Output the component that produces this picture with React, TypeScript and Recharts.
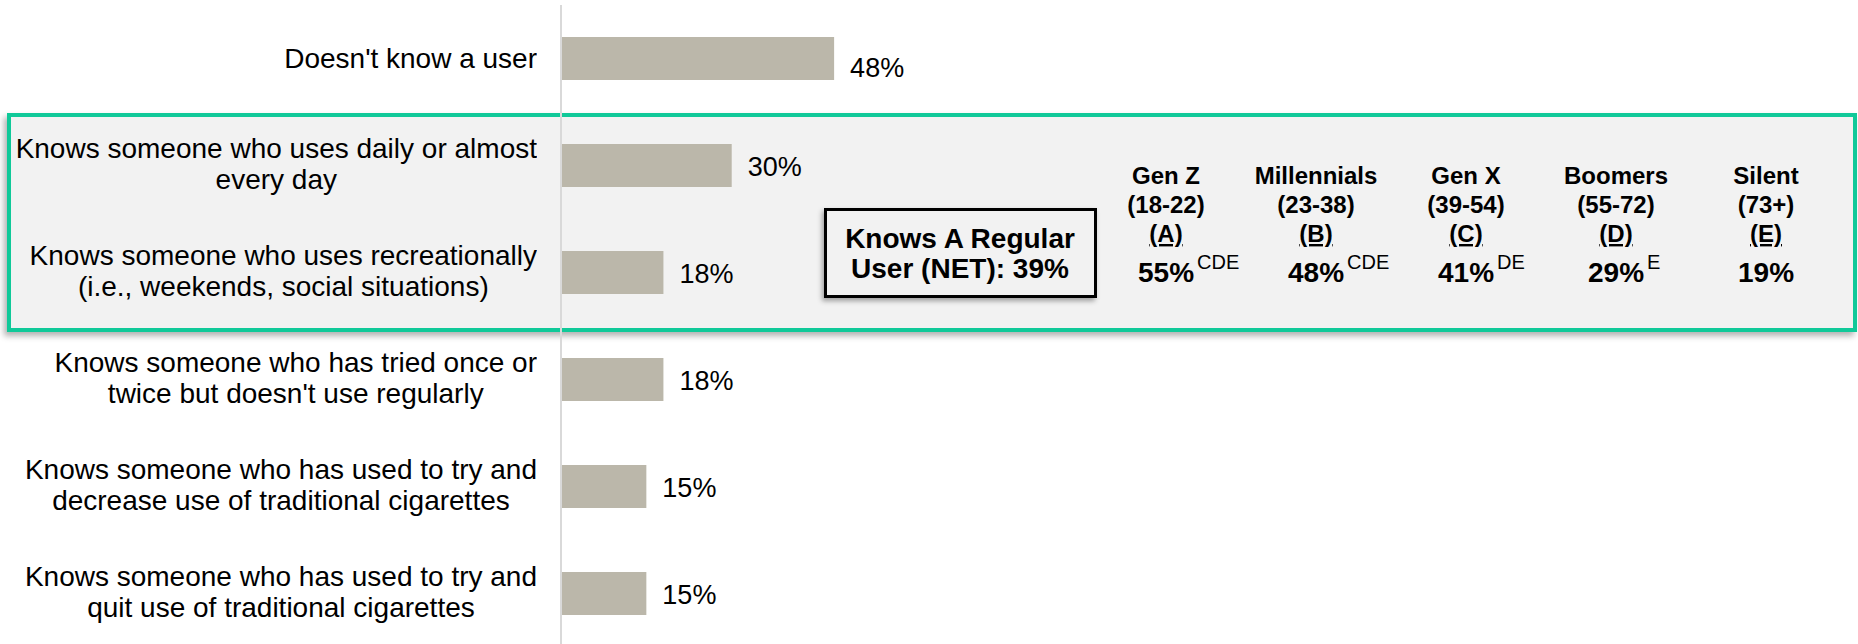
import React from "react";
import { BarChart, Bar, XAxis, YAxis, LabelList } from "recharts";

// who the respondents know, share of all adults
const categories = [
  "Doesn't know a user",
  "Knows someone who uses daily or almost\nevery day",
  "Knows someone who uses recreationally\n(i.e., weekends, social situations)",
  "Knows someone who has tried once or\ntwice but doesn't use regularly",
  "Knows someone who has used to try and\ndecrease use of traditional cigarettes",
  "Knows someone who has used to try and\nquit use of traditional cigarettes",
];
const values = [48, 30, 18, 18, 15, 15];

const netLines = ["Knows A Regular", "User (NET): "];
const netValue = 39;

const genNames = ["Gen Z", "Millennials", "Gen X", "Boomers", "Silent"];
const genAges = ["(18-22)", "(23-38)", "(39-54)", "(55-72)", "(73+)"];
const genLetters = ["(A)", "(B)", "(C)", "(D)", "(E)"];
const genValues = [55, 48, 41, 29, 19];
const genSig = ["CDE", "CDE", "DE", "E", ""];

const FONT = "'Liberation Sans', Arial, sans-serif";
const BAR = "#bbb7aa";
const GREEN = "#10c999";

const data = categories.map((name, i) => ({ name, value: values[i] }));

const CategoryTick = (props: any) => {
  const { x, y, payload } = props;
  const lines = String(payload.value).split("\n");
  return (
    <foreignObject x={x - 560} y={y - 50} width={560} height={100}>
      <div
        style={{
          width: 560,
          height: 100,
          display: "flex",
          justifyContent: "flex-end",
          alignItems: "center",
        }}
      >
        <div
          style={{
            textAlign: "center",
            fontFamily: FONT,
            fontSize: 28,
            lineHeight: "31px",
            color: "#000",
            whiteSpace: "nowrap",
            marginTop: lines.length > 1 ? -3 : 0,
          }}
        >
          {lines.map((l, i) => (
            <div key={i}>{l}</div>
          ))}
        </div>
      </div>
    </foreignObject>
  );
};

const ValueLabel = (props: any) => {
  const { x, y, width, height, value, index } = props;
  // first label sits a little low in the original
  const dy = index === 0 ? 8 : 0;
  return (
    <text
      x={Number(x) + Number(width) + 16}
      y={Number(y) + Number(height) / 2 + 10 + dy}
      fontFamily={FONT}
      fontSize={27}
      fill="#000"
    >
      {value}%
    </text>
  );
};

export default function App() {
  const colX = (i: number) => 1166 + i * 150;

  return (
    <div
      style={{
        position: "absolute",
        left: 0,
        top: 0,
        width: 1858,
        height: 644,
        overflow: "hidden",
        background: "#fff",
      }}
    >
      {/* highlight panel behind the regular-user rows */}
      <div
        style={{
          position: "absolute",
          left: 7,
          top: 113,
          width: 1850,
          height: 219,
          boxSizing: "border-box",
          border: `4px solid ${GREEN}`,
          background: "#f2f2f2",
          boxShadow: "-3px 4px 6px rgba(0,0,0,0.3)",
        }}
      />

      <div style={{ position: "absolute", left: 0, top: 0 }}>
        <BarChart
          width={1858}
          height={652}
          data={data}
          layout="vertical"
          margin={{ top: 5, right: 728, bottom: 5, left: 0 }}
        >
          <XAxis type="number" domain={[0, 100]} hide />
          <YAxis
            type="category"
            dataKey="name"
            width={561}
            tickLine={false}
            tickSize={0}
            tickMargin={24}
            axisLine={{ stroke: "#d9d9d9", strokeWidth: 2 }}
            tick={<CategoryTick />}
            interval={0}
          />
          <Bar dataKey="value" fill={BAR} barSize={43} isAnimationActive={false}>
            <LabelList dataKey="value" content={<ValueLabel />} />
          </Bar>
        </BarChart>
      </div>

      <svg
        width={1858}
        height={644}
        style={{ position: "absolute", left: 0, top: 0, pointerEvents: "none" }}
      >
        <defs>
          <filter id="sh" x="-10%" y="-20%" width="120%" height="150%">
            <feDropShadow dx="-2" dy="3" stdDeviation="2.5" floodColor="#000" floodOpacity="0.35" />
          </filter>
        </defs>

        <rect
          x={825.5}
          y={209.5}
          width={270}
          height={87}
          fill="#f2f2f2"
          stroke="#000"
          strokeWidth={3}
          filter="url(#sh)"
        />
        <text
          x={960}
          y={248}
          textAnchor="middle"
          fontFamily={FONT}
          fontSize={28}
          fontWeight="bold"
          fill="#000"
        >
          {netLines[0]}
        </text>
        <text
          x={960}
          y={278}
          textAnchor="middle"
          fontFamily={FONT}
          fontSize={28}
          fontWeight="bold"
          fill="#000"
        >
          {netLines[1]}
          {netValue}%
        </text>

        {genNames.map((g, i) => (
          <g key={g} fontFamily={FONT} fill="#000">
            <text x={colX(i)} y={184} textAnchor="middle" fontSize={24} fontWeight="bold">
              {g}
            </text>
            <text x={colX(i)} y={213} textAnchor="middle" fontSize={24} fontWeight="bold">
              {genAges[i]}
            </text>
            <text
              x={colX(i)}
              y={242}
              textAnchor="middle"
              fontSize={24}
              fontWeight="bold"
              textDecoration="underline"
            >
              {genLetters[i]}
            </text>
            <text x={colX(i)} y={282} textAnchor="middle" fontSize={28} fontWeight="bold">
              {genValues[i]}%
            </text>
            {genSig[i] && (
              <text x={colX(i) + 31} y={269} fontSize={20}>
                {genSig[i]}
              </text>
            )}
          </g>
        ))}
      </svg>
    </div>
  );
}
